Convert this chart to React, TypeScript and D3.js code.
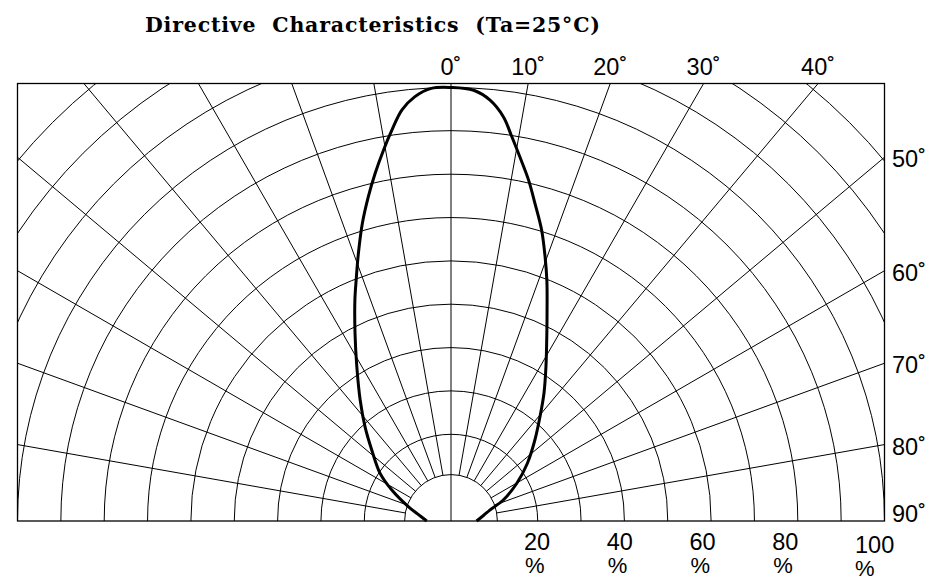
import React, { useEffect, useRef } from "react";
import * as d3 from "d3";

const title = "Directive  Characteristics  (Ta=25°C)";
const gridAngles = [-80, -70, -60, -50, -40, -30, -20, -10, 0, 10, 20, 30, 40, 50, 60, 70, 80];
const angleLabels = [0, 10, 20, 30, 40, 50, 60, 70, 80, 90];
const ringPcts = [20, 30, 40, 50, 60, 70, 80, 90, 100, 110, 120, 130];
const hubPct = 10.7;
const pctLabels = [20, 40, 60, 80, 100];

// relative intensity (%), by angle (deg, 0 = straight up)
const curveAngles = [
  -90, -78, -71.4, -62.4, -56.1, -48.2, -42.4, -36.9, -31.4, -27.1, -23.5, -21.5,
  -19.1, -16.6, -14.3, -12.3, -10.3, -8.6, -6.8, -4.9, -2.6, 0, 3, 5.3, 7.4, 8.9,
  10.7, 12.8, 14.8, 17.3, 19.6, 21.7, 23.5, 27, 31.6, 36, 40.5, 46, 52.9, 60.2,
  68.1, 74.3, 80.4, 90,
];
const curveValues = [
  5.6, 7.9, 10.4, 15.4, 19.7, 24.5, 29.4, 34.9, 41.7, 48.6, 55.6, 59.7,
  65.3, 71.6, 77.2, 82.1, 87.0, 91.2, 95.5, 98.2, 99.9, 100, 99.5, 97.5, 94.0, 90.0,
  85.5, 80.7, 75.8, 70.3, 64.7, 59.8, 55.6, 48.7, 41.8, 36.5, 31.6, 26.9, 22.1, 17.5,
  13.0, 9.3, 7.6, 5.9,
];

export default function App() {
  const svgRef = useRef<SVGSVGElement>(null);

  useEffect(() => {
    const width = 934;
    const height = 581;
    const cx = 451;
    const cy = 521;
    const R = 433.5;
    const box = { left: cx - R, right: cx + R, top: 83.5, bottom: cy };
    const rad = (d: number) => (d * Math.PI) / 180;

    const r = d3.scaleLinear().domain([0, 100]).range([0, R]);
    const pctX = d3.scaleLinear().domain([20, 100]).range([524, 855]);

    const svg = d3
      .select(svgRef.current)
      .attr("width", width)
      .attr("height", height);
    svg.selectAll("*").remove();

    svg
      .append("defs")
      .append("clipPath")
      .attr("id", "plotClip")
      .append("rect")
      .attr("x", box.left)
      .attr("y", box.top)
      .attr("width", box.right - box.left)
      .attr("height", box.bottom - box.top);

    const grid = svg.append("g").attr("clip-path", "url(#plotClip)");

    // rings
    const rings = [hubPct, ...ringPcts];
    grid
      .selectAll("path.ring")
      .data(rings)
      .join("path")
      .attr("class", "ring")
      .attr("d", (p) => {
        const path = d3.path();
        path.arc(cx, cy, r(p), Math.PI, 2 * Math.PI);
        return path.toString();
      })
      .attr("fill", "none")
      .attr("stroke", "#000")
      .attr("stroke-width", 1);

    // radial lines
    grid
      .selectAll("line.spoke")
      .data(gridAngles)
      .join("line")
      .attr("class", "spoke")
      .attr("x1", (a) => cx + (a === 0 ? 0 : r(hubPct)) * Math.sin(rad(a)))
      .attr("y1", (a) => cy - (a === 0 ? 0 : r(hubPct)) * Math.cos(rad(a)))
      .attr("x2", (a) => cx + 800 * Math.sin(rad(a)))
      .attr("y2", (a) => cy - 800 * Math.cos(rad(a)))
      .attr("stroke", "#000")
      .attr("stroke-width", 1);

    // frame
    svg
      .append("rect")
      .attr("x", box.left)
      .attr("y", box.top)
      .attr("width", box.right - box.left)
      .attr("height", box.bottom - box.top)
      .attr("fill", "none")
      .attr("stroke", "#000")
      .attr("stroke-width", 1.3);

    // characteristic curve
    const pts = curveAngles.map((a, i) => ({ a, v: curveValues[i] }));
    const line = d3
      .lineRadial<{ a: number; v: number }>()
      .angle((d) => rad(d.a))
      .radius((d) => r(d.v))
      .curve(d3.curveCatmullRom);
    svg
      .append("path")
      .attr("transform", `translate(${cx},${cy})`)
      .attr("d", line(pts))
      .attr("fill", "none")
      .attr("stroke", "#000")
      .attr("stroke-width", 3)
      .attr("stroke-linejoin", "round");

    const font = "'Liberation Sans', Arial, sans-serif";

    // angle labels
    svg
      .append("g")
      .selectAll("text")
      .data(angleLabels)
      .join("text")
      .text((a) => `${a}˚`)
      .each(function (a) {
        const t = d3.select(this);
        const xTop = cx + (cy - box.top) * Math.tan(rad(a));
        if (a < 90 && xTop <= box.right) {
          t.attr("x", xTop).attr("y", 75).attr("text-anchor", "middle");
        } else {
          const yRight = a >= 90 ? box.bottom - 9 : cy - R / Math.tan(rad(a));
          t.attr("x", 892)
            .attr("y", yRight + 2)
            .attr("dominant-baseline", "central");
        }
      })
      .attr("font-family", font)
      .attr("font-size", 23.5)
      .attr("fill", "#000");

    // percent labels
    const pg = svg
      .append("g")
      .selectAll("g")
      .data(pctLabels)
      .join("g")
      .attr("transform", (p) => `translate(${pctX(p)},${p === 100 ? 3 : 0})`);
    pg.append("text")
      .text((p) => `${p}`)
      .attr("x", 0)
      .attr("y", 550)
      .attr("font-family", font)
      .attr("font-size", 23.5);
    pg.append("text")
      .text("%")
      .attr("x", (p) => (p === 100 ? 0 : 1))
      .attr("y", 573)
      .attr("font-family", font)
      .attr("font-size", 22);

    // title
    svg
      .append("text")
      .text(title)
      .attr("x", 145)
      .attr("y", 31.5)
      .attr("textLength", 455)
      .attr("lengthAdjust", "spacing")
      .attr("xml:space", "preserve")
      .style("white-space", "pre")
      .attr("font-family", "'DejaVu Serif', 'Liberation Serif', serif")
      .attr("font-weight", "bold")
      .attr("font-size", 20.5);
  }, []);

  return (
    <div>
      <svg
        ref={svgRef}
        style={{ position: "absolute", left: 0, top: 0, background: "#fff" }}
      ></svg>
    </div>
  );
}
